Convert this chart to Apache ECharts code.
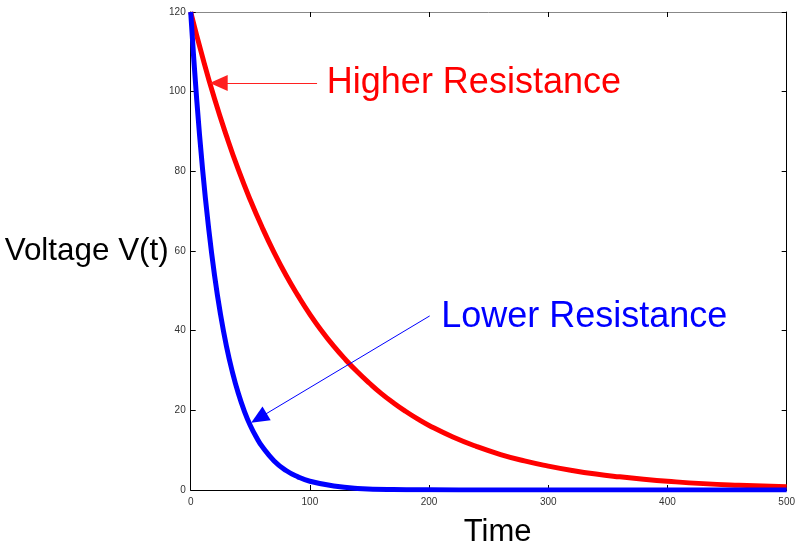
<!DOCTYPE html>
<html>
<head>
<meta charset="utf-8">
<script src="https://cdn.jsdelivr.net/npm/echarts@6/dist/echarts.min.js"></script>
<style>
html,body{margin:0;padding:0;background:#fff;}
#chart{width:798px;height:553px;}
</style>
</head>
<body>
<div id="chart"></div>
<script>
// Higher resistance curve (time, voltage)
var highTime = [0,10,20,30,40,50,60,70,80,90,100,110,120,130,140,150,160,170,180,190,200,220,240,260,280,300,320,340,360,380,400,430,460,500];
var highVolt = [120,108.6,98.2,88.9,80.4,72.8,65.9,59.6,53.9,48.8,44.1,39.9,36.1,32.7,29.6,26.8,24.2,21.9,19.8,17.9,16.2,13.3,10.9,8.9,7.3,6.0,4.9,4.0,3.3,2.7,2.2,1.6,1.2,0.8];
// Lower resistance curve
var lowTime = [0,5,10,15,20,25,30,35,40,45,50,55,60,70,80,90,100,120,140,170,200,250,300,400,500];
var lowVolt = [120,98.2,80.4,65.9,53.9,44.1,36.1,29.6,24.2,19.8,16.2,13.3,10.9,7.3,4.9,3.3,2.2,1.0,0.4,0.1,0.04,0.01,0,0,0];

var xTicks = [0,100,200,300,400,500];
var yTicks = [0,20,40,60,80,100,120];

// annotation anchors (data coordinates)
var highArrow = [[106,102.2],[23.5,102.2]];
var lowArrow = [[200.5,43.7],[57.2,18.05]];
var highLabel = {t:114.2, v:102.2, text:'Higher Resistance'};
var lowLabel = {t:210.2, v:43.4, text:'Lower Resistance'};

function pairs(xs, ys){ return xs.map(function(x,i){return [x, ys[i]];}); }

var FONT = '"Liberation Sans", Arial, sans-serif';
var chart = echarts.init(document.getElementById('chart'), null, {renderer:'canvas'});

var baseAxis = {
  type:'value',
  axisLine:{show:true, onZero:false, lineStyle:{color:'#000', width:1}},
  axisTick:{show:true, inside:true, length:5, lineStyle:{color:'#000'}},
  splitLine:{show:false}
};

chart.setOption({
  animation:false,
  backgroundColor:'#fff',
  grid:{left:190.7, right:7.3, top:12, bottom:63, containLabel:false},
  xAxis:[
    Object.assign({}, baseAxis, {
      position:'bottom', min:0, max:500, interval:100,
      name:'Time', nameLocation:'middle', nameGap:27,
      nameTextStyle:{color:'#000', fontSize:31, fontFamily:FONT, padding:[0,0,0,18]},
      axisLabel:{color:'#333', fontSize:10, margin:7, fontFamily:FONT,
        formatter:function(v){return xTicks.indexOf(v)>=0 ? String(v) : '';}}
    }),
    Object.assign({}, baseAxis, {
      position:'top', min:0, max:500, interval:100,
      axisLine:{show:true, onZero:false, lineStyle:{color:'#888', width:1}},
      axisLabel:{show:false}
    })
  ],
  yAxis:[
    Object.assign({}, baseAxis, {
      position:'left', min:0, max:120, interval:20,
      name:'Voltage V(t)', nameLocation:'middle', nameGap:22, nameRotate:0,
      nameMoveOverlap:false,
      nameTextStyle:{color:'#000', fontSize:31.4, fontFamily:FONT, align:'right', verticalAlign:'middle'},
      axisLabel:{color:'#333', fontSize:10, margin:5, fontFamily:FONT,
        formatter:function(v){return yTicks.indexOf(v)>=0 ? String(v) : '';}}
    }),
    Object.assign({}, baseAxis, {
      position:'right', min:0, max:120, interval:20,
      axisLabel:{show:false}
    })
  ],
  series:[
    {
      name:'Higher Resistance', type:'line', smooth:true, showSymbol:false, silent:true,
      data:pairs(highTime, highVolt),
      lineStyle:{color:'#ff0000', width:5},
      itemStyle:{color:'#ff0000'},
      markLine:{
        silent:true, animation:false,
        symbol:['none','triangle'], symbolSize:[16,18],
        label:{show:false},
        lineStyle:{color:'#ff2020', width:1.2, type:'solid'},
        itemStyle:{color:'#ff0000'},
        emphasis:{disabled:true},
        data:[[{coord:highArrow[0]},{coord:highArrow[1]}]]
      },
      markPoint:{
        silent:true, animation:false,
        symbol:'circle', symbolSize:0,
        itemStyle:{color:'rgba(0,0,0,0)'},
        label:{show:true, position:'right', distance:0, color:'#ff0000', fontSize:36, fontFamily:FONT,
          formatter:function(){return highLabel.text;}},
        data:[{coord:[highLabel.t, highLabel.v]}]
      }
    },
    {
      name:'Lower Resistance', type:'line', smooth:true, showSymbol:false, silent:true,
      data:pairs(lowTime, lowVolt),
      lineStyle:{color:'#0000ff', width:5},
      itemStyle:{color:'#0000ff'},
      markLine:{
        silent:true, animation:false,
        symbol:['none','triangle'], symbolSize:[16,18],
        label:{show:false},
        lineStyle:{color:'#0000ff', width:1, type:'solid'},
        itemStyle:{color:'#0000ff'},
        emphasis:{disabled:true},
        data:[[{coord:lowArrow[0]},{coord:lowArrow[1]}]]
      },
      markPoint:{
        silent:true, animation:false,
        symbol:'circle', symbolSize:0,
        itemStyle:{color:'rgba(0,0,0,0)'},
        label:{show:true, position:'right', distance:0, color:'#0000ff', fontSize:36, fontFamily:FONT,
          formatter:function(){return lowLabel.text;}},
        data:[{coord:[lowLabel.t, lowLabel.v]}]
      }
    }
  ]
});
</script>
</body>
</html>
